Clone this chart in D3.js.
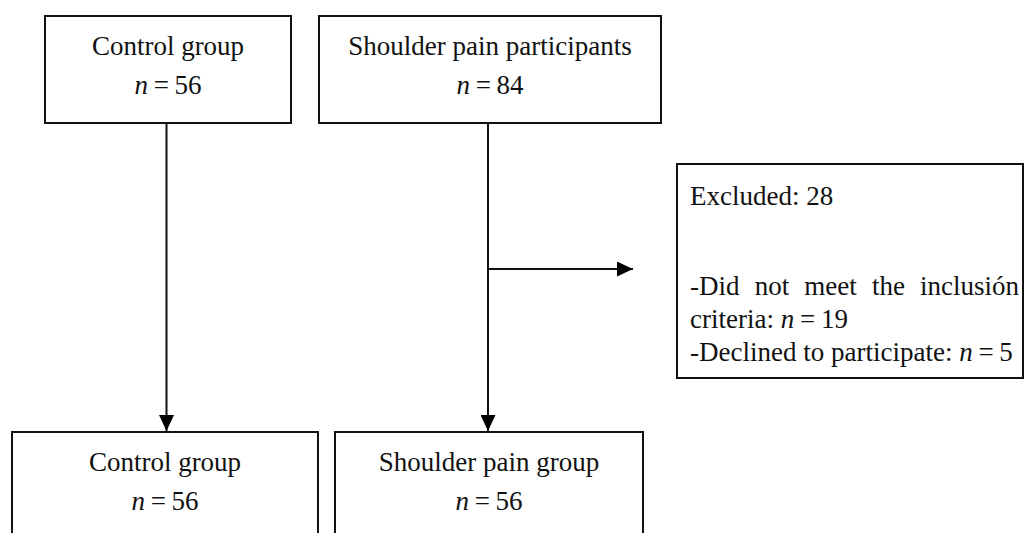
<!DOCTYPE html>
<html>
<head>
<meta charset="utf-8">
<script src="https://cdn.jsdelivr.net/npm/d3@7"></script>
<style>
    html, body { margin: 0; padding: 0; background: #fff; }
    svg { display: block; }
    text { font-family: "Liberation Serif", "Times New Roman", serif; font-size: 27px; fill: #111; }
    .eq { word-spacing: -1px; }
</style>
</head>
<body>
<div id="chart"></div>
<script>
(function () {
    'use strict';

    // Flow data
    const topLabels = ['Control group', 'Shoulder pain participants'];
    const topCounts = [56, 84];
    const bottomLabels = ['Control group', 'Shoulder pain group'];
    const bottomCounts = [56, 56];
    const excludedTotal = 28;
    const excludedReasons = ['Did not meet the inclusión criteria', 'Declined to participate'];
    const excludedCounts = [19, 5];

    // Layout (pixels)
    const W = 1025, H = 533;
    const topBoxes = [{ x: 45, y: 16, w: 246, h: 107 }, { x: 319, y: 16, w: 342, h: 107 }];
    const bottomBoxes = [{ x: 12, y: 432, w: 306, h: 130 }, { x: 335, y: 432, w: 308, h: 130 }];
    const exBox = { x: 677, y: 164, w: 346, h: 214 };
    const flowX = [166.5, 488];
    const branchY = 269;

    const svg = d3.select('#chart').append('svg')
        .attr('width', W)
        .attr('height', H);

    const defs = svg.append('defs');
    defs.append('marker')
        .attr('id', 'arrow')
        .attr('viewBox', '0 0 16 15')
        .attr('refX', 16)
        .attr('refY', 7.5)
        .attr('markerWidth', 16)
        .attr('markerHeight', 15)
        .attr('markerUnits', 'userSpaceOnUse')
        .attr('orient', 'auto')
        .append('path')
        .attr('d', 'M0,0 L16,7.5 L0,15 Z')
        .attr('fill', '#000');

    // Box with centered title + n line
    function drawBox(box, label, count) {
        const g = svg.append('g');
        g.append('rect')
            .attr('x', box.x).attr('y', box.y)
            .attr('width', box.w).attr('height', box.h)
            .attr('fill', '#fff')
            .attr('stroke', '#111')
            .attr('stroke-width', 2);
        const cx = box.x + box.w / 2;
        g.append('text')
            .attr('x', cx).attr('y', box.y + 39)
            .attr('text-anchor', 'middle')
            .text(label);
        const t = g.append('text')
            .attr('class', 'eq')
            .attr('x', cx).attr('y', box.y + 78)
            .attr('text-anchor', 'middle');
        t.append('tspan').attr('font-style', 'italic').text('n');
        t.append('tspan').text(' = ' + count);
    }

    // Arrows first so boxes sit on top
    flowX.forEach((x, i) => {
        svg.append('line')
            .attr('x1', x).attr('y1', topBoxes[i].y + topBoxes[i].h)
            .attr('x2', x).attr('y2', bottomBoxes[i].y - 1)
            .attr('stroke', '#111')
            .attr('stroke-width', 2)
            .attr('marker-end', 'url(#arrow)');
    });

    svg.append('line')
        .attr('x1', flowX[1]).attr('y1', branchY)
        .attr('x2', 633).attr('y2', branchY)
        .attr('stroke', '#111')
        .attr('stroke-width', 2)
        .attr('marker-end', 'url(#arrow)');

    topBoxes.forEach((b, i) => drawBox(b, topLabels[i], topCounts[i]));
    bottomBoxes.forEach((b, i) => drawBox(b, bottomLabels[i], bottomCounts[i]));

    // Excluded box
    svg.append('rect')
        .attr('x', exBox.x).attr('y', exBox.y)
        .attr('width', exBox.w).attr('height', exBox.h)
        .attr('fill', '#fff')
        .attr('stroke', '#111')
        .attr('stroke-width', 2);

    const textLeft = exBox.x + 13;
    const textRight = 1019;
    const maxW = textRight - textLeft;

    svg.append('text')
        .attr('x', textLeft).attr('y', 205)
        .text('Excluded: ' + excludedTotal);

    // Build lines, wrapping words; last line of each item carries the "n = x" part
    const lineH = 33;
    let y = 295;

    function measure(str) {
        const tmp = svg.append('text').attr('x', -999).attr('y', -999).text(str);
        const w = tmp.node().getComputedTextLength();
        tmp.remove();
        return w;
    }

    excludedReasons.forEach((reason, i) => {
        const words = ('-' + reason + ':').split(' ');
        const tail = ' = ' + excludedCounts[i];
        const tailW = measure(' n' + tail);
        let lines = [[]];
        words.forEach(wd => {
            const cur = lines[lines.length - 1];
            const trial = cur.concat(wd).join(' ');
            if (cur.length && measure(trial) > maxW) lines.push([wd]);
            else cur.push(wd);
        });
        // make sure tail fits on last line
        const last = lines[lines.length - 1];
        if (measure(last.join(' ')) + tailW > maxW && last.length > 1) {
            lines.push([last.pop()]);
        }

        lines.forEach((ws, li) => {
            const isLast = li === lines.length - 1;
            if (!isLast) {
                // justified line: spread words across the box
                const widths = ws.map(measure);
                const total = d3.sum(widths);
                const gap = (maxW - total) / (ws.length - 1);
                let x = textLeft;
                ws.forEach((wd, k) => {
                    svg.append('text').attr('x', x).attr('y', y).text(wd);
                    x += widths[k] + gap;
                });
            } else {
                const t = svg.append('text').attr('x', textLeft).attr('y', y);
                t.append('tspan').text(ws.join(' ') + ' ');
                t.append('tspan').attr('font-style', 'italic').text('n');
                t.append('tspan').attr('class', 'eq').text(tail);
            }
            y += lineH;
        });
    });
})();
</script>
</body>
</html>
